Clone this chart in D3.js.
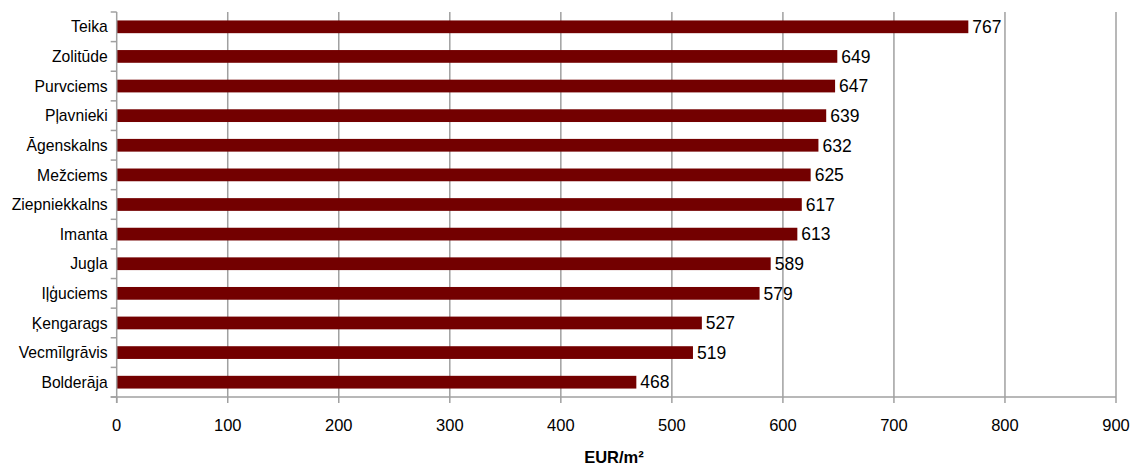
<!DOCTYPE html>
<html><head><meta charset="utf-8">
<script src="https://cdn.jsdelivr.net/npm/d3@7"></script>
<style>body{margin:0;background:#fff}svg{display:block;font-family:"Liberation Sans",Arial,sans-serif}</style>
</head><body><svg id="c" width="1135" height="468"></svg>
<script>
const categories = ["Teika","Zolitūde","Purvciems","Pļavnieki","Āgenskalns","Mežciems","Ziepniekkalns","Imanta","Jugla","Iļģuciems","Ķengarags","Vecmīlgrāvis","Bolderāja"];
const values = [767,649,647,639,632,625,617,613,589,579,527,519,468];
const xTicks = [0,100,200,300,400,500,600,700,800,900];
const xTitle = "EUR/m²";

const svg = d3.select("#c");
const L = 116.7, R = 1116, T = 12, B = 397;
const x = d3.scaleLinear().domain([0,900]).range([L,R]);
const y = d3.scaleBand().domain(categories).range([T,B]).paddingInner(0.57).paddingOuter(0.285);

// gridlines
svg.append("g").selectAll("line").data(xTicks.slice(1)).join("line")
  .attr("x1",d=>x(d)).attr("x2",d=>x(d)).attr("y1",T).attr("y2",B)
  .attr("stroke","#a0a0a0").attr("stroke-width",1.5);

// bars
svg.append("g").selectAll("rect").data(categories).join("rect")
  .attr("x",x(0)).attr("y",d=>y(d)).attr("height",y.bandwidth())
  .attr("width",(d,i)=>x(values[i])-x(0)).attr("fill","#730000");

// value labels
svg.append("g").selectAll("text").data(categories).join("text")
  .attr("x",(d,i)=>x(values[i])+4).attr("y",d=>y(d)+y.bandwidth()/2)
  .attr("dy","0.36em").attr("font-size",17.5).attr("fill","#000")
  .text((d,i)=>values[i]);

// y axis
const yAxisG = svg.append("g").attr("transform",`translate(${L},0)`);
yAxisG.append("line").attr("x1",0).attr("x2",0).attr("y1",T).attr("y2",B+6).attr("stroke","#a0a0a0").attr("stroke-width",1.5);
const step = y.step();
yAxisG.selectAll("line.t").data(d3.range(categories.length+1)).join("line").attr("class","t")
  .attr("x1",-6).attr("x2",0).attr("y1",i=>T+i*step).attr("y2",i=>T+i*step)
  .attr("stroke","#a0a0a0").attr("stroke-width",1.5);
yAxisG.selectAll("text").data(categories).join("text")
  .attr("x",-9).attr("y",d=>y(d)+y.bandwidth()/2).attr("dy","0.36em")
  .attr("text-anchor","end").attr("font-size",15.7).attr("fill","#000").text(d=>d);

// x axis
const xAxisG = svg.append("g").attr("transform",`translate(0,${B})`);
xAxisG.append("line").attr("x1",L-6).attr("x2",R).attr("y1",0).attr("y2",0).attr("stroke","#a0a0a0").attr("stroke-width",1.5);
xAxisG.selectAll("line.t").data(xTicks).join("line").attr("class","t")
  .attr("x1",d=>x(d)).attr("x2",d=>x(d)).attr("y1",0).attr("y2",6)
  .attr("stroke","#a0a0a0").attr("stroke-width",1.5);
xAxisG.selectAll("text").data(xTicks).join("text")
  .attr("x",d=>x(d)).attr("y",28).attr("dy","0.36em").attr("text-anchor","middle")
  .attr("font-size",16.5).attr("fill","#000").text(d=>d);

svg.append("text").attr("x",614).attr("y",463).attr("text-anchor","middle")
  .attr("font-size",16.5).attr("font-weight","bold").attr("fill","#000").text(xTitle);
</script></body></html>
